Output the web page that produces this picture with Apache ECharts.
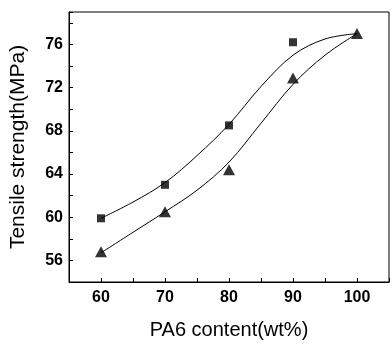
<!DOCTYPE html>
<html>
<head>
<meta charset="utf-8">
<script src="https://cdn.jsdelivr.net/npm/echarts@6/dist/echarts.min.js"></script>
<style>html,body{margin:0;padding:0;background:#fff}#c{width:392px;height:345px}</style>
</head>
<body>
<div id="c"></div>
<script>
var pa6Content = [60, 70, 80, 90, 100];
// the square at 100 wt% is hidden under the triangle in the reference
var squareValues = [59.9, 63.0, 68.5, 76.2, '-'];
var triangleValues = [56.8, 60.5, 64.4, 72.9, 77.0];
var fitX = [60, 65, 70, 75, 80, 85, 90, 95, 100];
var upperFit = [59.9, 61.4, 63.2, 65.7, 68.6, 72.1, 75.0, 76.5, 77.0];
var lowerFit = [56.7, 58.6, 60.5, 62.5, 65.1, 68.7, 72.3, 75.0, 77.0];
var xTickLabels = [60, 70, 80, 90, 100];
var yTickLabels = [56, 60, 64, 68, 72, 76];

function pairs(xs, ys) { return xs.map(function (x, i) { return [x, ys[i]]; }); }

var chart = echarts.init(document.getElementById('c'), null, {renderer: 'canvas'});
var font = 'Liberation Sans, Arial, sans-serif';
chart.setOption({
  animation: false,
  backgroundColor: '#fff',
  grid: {left: 68, top: 12, right: 1, bottom: 63, show: true, borderColor: '#000', borderWidth: 1},
  xAxis: {
    type: 'value', min: 55, max: 105, interval: 5,
    name: 'PA6 content(wt%)', nameLocation: 'middle', nameGap: 38,
    nameTextStyle: {fontFamily: font, fontSize: 20, color: '#000'},
    axisLine: {lineStyle: {color: '#000', width: 1}},
    axisTick: {inside: true, length: 4, lineStyle: {color: '#000'}},
    axisLabel: {fontFamily: font, fontSize: 16, fontWeight: 'bold', color: '#000', margin: 8,
      formatter: function (v) { return xTickLabels.indexOf(v) >= 0 ? String(v) : ''; }},
    splitLine: {show: false}
  },
  yAxis: {
    type: 'value', min: 54, max: 79, interval: 2,
    name: 'Tensile strength(MPa)', nameLocation: 'middle', nameGap: 40,
    nameTextStyle: {fontFamily: font, fontSize: 21, color: '#000'},
    axisLine: {show: true, lineStyle: {color: '#000', width: 1}},
    axisTick: {inside: true, length: 4, lineStyle: {color: '#000'}},
    axisLabel: {fontFamily: font, fontSize: 16, fontWeight: 'bold', color: '#000', margin: 6,
      formatter: function (v) { return yTickLabels.indexOf(v) >= 0 ? String(v) : ''; }},
    splitLine: {show: false}
  },
  series: [
    {type: 'line', data: pairs(fitX, upperFit), smooth: 0.35, showSymbol: false,
      lineStyle: {color: '#000', width: 1}, z: 1},
    {type: 'line', data: pairs(fitX, lowerFit), smooth: 0.35, showSymbol: false,
      lineStyle: {color: '#000', width: 1}, z: 1},
    {type: 'scatter', data: pairs(pa6Content, squareValues), symbol: 'rect', symbolSize: 8,
      itemStyle: {color: '#000'}, z: 3},
    {type: 'scatter', data: pairs(pa6Content, triangleValues), symbol: 'triangle', symbolSize: [12, 11],
      itemStyle: {color: '#000'}, z: 4}
  ]
});
</script>
</body>
</html>
